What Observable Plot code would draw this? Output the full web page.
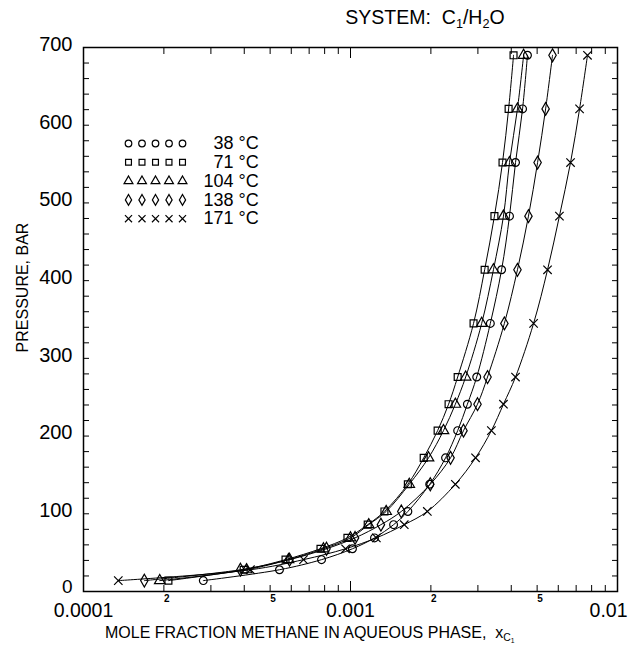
<!DOCTYPE html>
<html>
<head>
<meta charset="utf-8">
<script src="https://cdn.jsdelivr.net/npm/d3@7"></script>
<script src="https://cdn.jsdelivr.net/npm/@observablehq/plot@0.6"></script>
<style>
  body { margin: 0; background: #fff; }
  #wrap { position: relative; width: 637px; height: 645px; font-family: "Liberation Sans", Arial, sans-serif; color: #000; }
  #chart { position: absolute; left: 0; top: 0; }
  #title { position: absolute; left: 300px; width: 250px; top: 6px; text-align: center; font-size: 19.5px; white-space: nowrap; }
  #xlabel { position: absolute; left: 105px; top: 625px; font-size: 16px; line-height: 16px; white-space: nowrap; }
  sub { font-size: 65%; vertical-align: -0.3em; line-height: 0; }
</style>
</head>
<body>
<div id="wrap">
  <div id="chart"></div>
  <div id="title">SYSTEM:&nbsp; C<sub>1</sub>/H<sub>2</sub>O</div>
  <div id="xlabel">MOLE FRACTION METHANE IN AQUEOUS PHASE,&nbsp; x<sub>C<sub>1</sub></sub></div>
</div>
<script>
// ---- data ----
const series = ["38 °C", "71 °C", "104 °C", "138 °C", "171 °C"];
const seriesNumbers = ["38", "71", "104", "138", "171"];
const seriesUnit = "°C";
const seriesSymbols = ["circle", "square", "triangle", "diamond", "times"];
const pressures = [14, 28, 41, 55, 69, 86, 103, 138, 172, 207, 241, 276, 345, 414, 483, 552, 621, 690];
const x38  = [0.000281, 0.000542, 0.000779, 0.001017, 0.00123, 0.00145, 0.00164, 0.00198, 0.00227, 0.00252, 0.00274, 0.00297, 0.00334, 0.00368, 0.00394, 0.00415, 0.00441, 0.00460];
const x71  = [0.000208, 0.000398, 0.000571, 0.000772, 0.000974, 0.00116, 0.00134, 0.00164, 0.00188, 0.00212, 0.00233, 0.00252, 0.00289, 0.00318, 0.00346, 0.00371, 0.00391, 0.00408];
const x104 = [0.000193, 0.000408, 0.000586, 0.000792, 0.00100, 0.00117, 0.00136, 0.00166, 0.00196, 0.00223, 0.00247, 0.00270, 0.00310, 0.00343, 0.00374, 0.00394, 0.00422, 0.00445];
const x138 = [0.000169, 0.000387, 0.000591, 0.000813, 0.00104, 0.00130, 0.00155, 0.00199, 0.00237, 0.00265, 0.00299, 0.00326, 0.00377, 0.00422, 0.00464, 0.00502, 0.00538, 0.00571];
const x171 = [0.000135, 0.000422, 0.000667, 0.000958, 0.00125, 0.00159, 0.00194, 0.00247, 0.00294, 0.00337, 0.00374, 0.00415, 0.00485, 0.00547, 0.00606, 0.00667, 0.00721, 0.00772];
const xMajorTicks = [0.0001, 0.001, 0.01];
const xMajorLabels = ["0.0001", "0.001", "0.01"];
const xMinorTicks = [2e-4, 3e-4, 4e-4, 5e-4, 6e-4, 7e-4, 8e-4, 9e-4, 2e-3, 3e-3, 4e-3, 5e-3, 6e-3, 7e-3, 8e-3, 9e-3];
const xMinorLabelTicks = [2e-4, 5e-4, 2e-3, 5e-3];
const xMinorLabels = ["2", "5", "2", "5"];
const yLabelTicks = [0, 100, 200, 300, 400, 500, 600, 700];
const yMinorTicks = d3.range(0, 701, 20);
const yTitle = "PRESSURE, BAR";

// ---- build table ----
const xs = [x38, x71, x104, x138, x171];
const rows = [];
series.forEach((s, i) => pressures.forEach((p, j) => rows.push({series: s, p, x: xs[i][j]})));

const fmtMajor = d => xMajorLabels[xMajorTicks.findIndex(t => Math.abs(t - d) / t < 1e-6)];
const fmtMinor = d => xMinorLabels[xMinorLabelTicks.findIndex(t => Math.abs(t - d) / t < 1e-6)];
const blank = () => "";

// legend marks (inside the frame, top-left)
const legendMarks = [];
series.forEach((s, i) => {
  const dy = 96 + 18.8 * i;
  for (let c = 0; c < 5; c++) {
    legendMarks.push(Plot.dot([s], {frameAnchor: "top-left", dx: 45 + 13.5 * c, dy,
      symbol: d => d, r: 3.3, stroke: "black", strokeWidth: 1.2, fill: "none"}));
  }
  legendMarks.push(Plot.text([seriesNumbers[i]], {frameAnchor: "top-left", dx: 150, dy,
    text: d => d, textAnchor: "end", lineAnchor: "middle", fontSize: 18}));
  legendMarks.push(Plot.text([seriesUnit], {frameAnchor: "top-left", dx: 155, dy,
    text: d => d, textAnchor: "start", lineAnchor: "middle", fontSize: 18}));
});

const chart = Plot.plot({
  width: 637,
  height: 645,
  marginLeft: 83,
  marginRight: 20,
  marginTop: 47,
  marginBottom: 54,
  style: {fontFamily: "'Liberation Sans', Arial, sans-serif", color: "black", background: "white", overflow: "visible"},
  x: {type: "log", domain: [1e-4, 1e-2]},
  y: {domain: [0, 700]},
  symbol: {domain: series, range: seriesSymbols},
  marks: [
    // y axis labels and inward ticks
    Plot.axisY({anchor: "left", ticks: yLabelTicks.slice(1), tickSize: 0, tickPadding: 11, dy: -3, fontSize: 20, label: null}),
    Plot.axisY({anchor: "left", ticks: yLabelTicks.slice(0, 1), tickSize: 0, tickPadding: 11, dy: -5, fontSize: 19, label: null}),
    Plot.axisY({anchor: "left", ticks: yMinorTicks, tickSize: 6, dx: 6, tickFormat: blank, label: null}),
    Plot.axisY({anchor: "right", ticks: yMinorTicks, tickSize: 6, dx: -6, tickFormat: blank, label: null}),
    // x axis inward ticks bottom and top
    Plot.axisX({anchor: "bottom", ticks: xMajorTicks, tickSize: 10, dy: -10, tickFormat: blank, label: null}),
    Plot.axisX({anchor: "bottom", ticks: xMinorTicks, tickSize: 6, dy: -6, tickFormat: blank, label: null}),
    Plot.axisX({anchor: "top", ticks: xMajorTicks, tickSize: 10, dy: 10, tickFormat: blank, label: null}),
    Plot.axisX({anchor: "top", ticks: xMinorTicks, tickSize: 6, dy: 6, tickFormat: blank, label: null}),
    // x labels
    Plot.axisX({anchor: "bottom", ticks: xMajorTicks.slice(0, 2), tickSize: 0, tickPadding: 12, tickFormat: fmtMajor, fontSize: 19.5, label: null}),
    Plot.axisX({anchor: "bottom", ticks: xMajorTicks.slice(2), tickSize: 0, tickPadding: 12, dx: 10, textAnchor: "end", tickFormat: fmtMajor, fontSize: 19.5, label: null}),
    Plot.axisX({anchor: "bottom", ticks: xMinorLabelTicks, tickSize: 0, tickPadding: 3, dx: 3, tickFormat: fmtMinor, fontSize: 10, fontWeight: "bold", label: null}),
    // y title
    Plot.text([yTitle], {frameAnchor: "left", dx: -61, dy: -32, rotate: -90, textAnchor: "middle", lineAnchor: "middle", text: d => d, fontSize: 16}),
    Plot.frame({stroke: "black", strokeWidth: 1.5}),
    // data
    Plot.line(rows, {x: "x", y: "p", z: "series", curve: "catmull-rom", stroke: "black", strokeWidth: 1}),
    Plot.dot(rows, {x: "x", y: "p", symbol: "series", r: 3.9, stroke: "black", strokeWidth: 1.2, fill: "none"}),
    ...legendMarks
  ]
});
document.getElementById("chart").appendChild(chart);
</script>
</body>
</html>
